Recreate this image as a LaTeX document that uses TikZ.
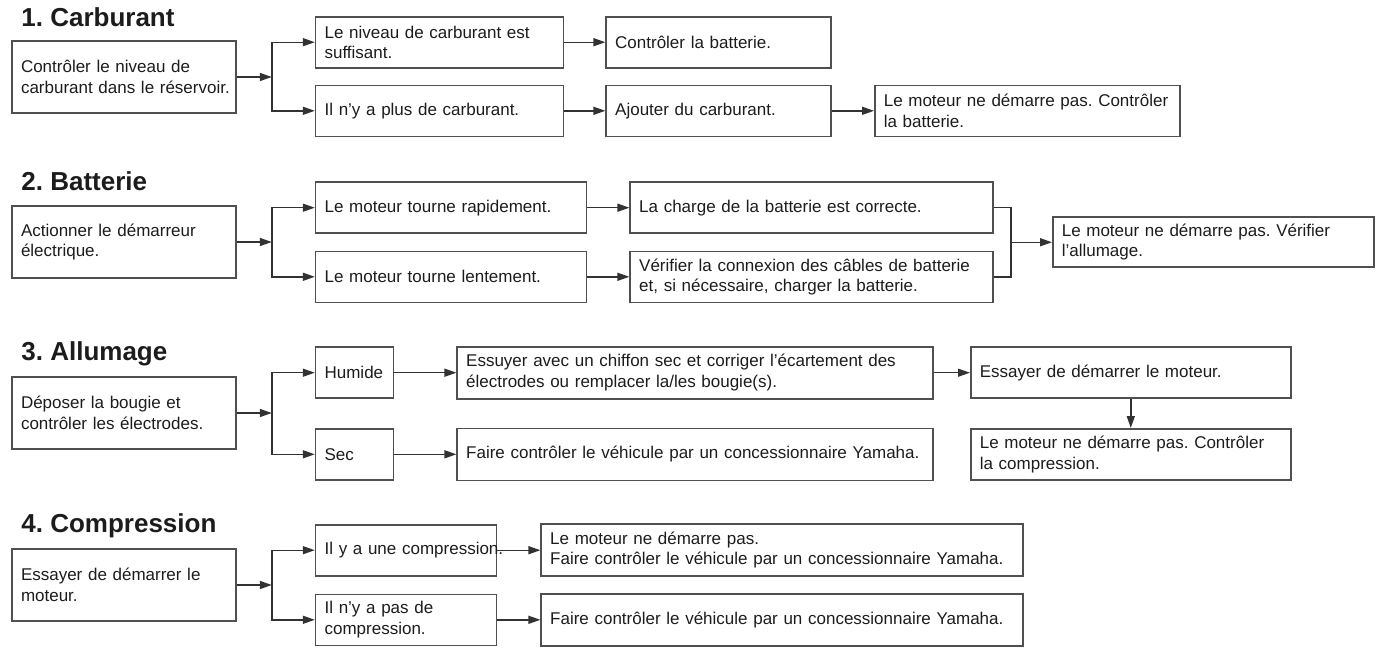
\documentclass[tikz,border=0pt]{standalone}
\usepackage{fontspec}
\setmainfont{Liberation Sans}
\usepackage{xcolor}
\usepackage{tikz}
\definecolor{linegray}{RGB}{50, 50, 50}
\definecolor{boxgray}{RGB}{80, 80, 80}
\definecolor{textblack}{RGB}{28, 28, 28}
\usetikzlibrary{arrows.meta, positioning, calc}
\newcommand{\boxfont}{\fontsize{17pt}{20.5pt}\selectfont}
\newcommand{\titlefont}{\fontsize{26pt}{30pt}\selectfont\bfseries}
\frenchspacing
\hyphenpenalty=10000
\exhyphenpenalty=10000

\begin{document}
\begin{tikzpicture}[
    x=1pt, y=-1pt,
    mainbox/.style={rectangle, draw=boxgray, line width=1.6pt, text=textblack,
                    inner xsep=9pt, inner ysep=0pt, text width=206pt,
                    minimum height=72pt, align=left, font=\boxfont},
    stepbox/.style={rectangle, draw=boxgray, line width=1.6pt, text=textblack,
                    inner xsep=9pt, inner ysep=0pt, minimum height=51pt,
                    align=left, font=\boxfont},
    heading/.style={anchor=base west, inner sep=0pt, text=textblack, font=\titlefont},
    flow/.style={draw=linegray, line width=1.4pt, -{Triangle[length=12pt, width=8pt]}},
    link/.style={draw=linegray, line width=1.4pt}
]
    \useasboundingbox (0,0) rectangle (1376,648);

    % 1. Carburant
    \node[mainbox] (check1) at (124,77) {Contrôler le niveau de\\\mbox{carburant dans le réservoir.}};
    \node[heading] (t1) at ([shift={(10pt,14pt)}]check1.north west) {1. Carburant};
    \coordinate[right=35pt of check1.east] (j1);
    \node[stepbox, text width=230pt, right=78pt of check1.north east, yshift=-2pt] (hi1) {Le niveau de carburant est\\suffisant.};
    \node[stepbox, text width=230pt, right=78pt of check1.south east, yshift=3pt] (lo1) {Il n’y a plus de carburant.};
    \node[stepbox, text width=207pt, right=41pt of hi1] (batt1) {Contrôler la batterie.};
    \node[stepbox, text width=207pt, right=41pt of lo1] (addfuel) {Ajouter du carburant.};
    \node[stepbox, text width=287pt, right=42pt of addfuel] (nostart1) {Le moteur ne démarre pas. Contrôler\\la batterie.};

    % 2. Batterie
    \node[mainbox] (check2) at (124,242) {Actionner le démarreur\\électrique.};
    \node[heading] (t2) at ([shift={(10pt,15pt)}]check2.north west) {2. Batterie};
    \coordinate[right=35pt of check2.east] (j2);
    \node[stepbox, text width=253pt, right=78pt of check2.north east, yshift=-2.5pt] (hi2) {Le moteur tourne rapidement.};
    \node[stepbox, text width=253pt, right=78pt of check2.south east, yshift=2pt] (lo2) {Le moteur tourne lentement.};
    \node[stepbox, text width=345pt, right=42pt of hi2] (chargeok) {La charge de la batterie est correcte.};
    \node[stepbox, text width=345pt, right=42pt of lo2] (cables) {Vérifier la connexion des câbles de batterie\\et, si nécessaire, charger la batterie.};
    \coordinate (k2) at ($(chargeok.east)!.5!(cables.east)+(17pt,0pt)$);
    \node[stepbox, text width=303pt, minimum height=50pt, right=41pt of k2] (ignition) {Le moteur ne démarre pas. Vérifier\\l’allumage.};

    % 3. Allumage
    \node[mainbox] (check3) at (124,413) {Déposer la bougie et\\contrôler les électrodes.};
    \node[heading] (t3) at ([shift={(10pt,16pt)}]check3.north west) {3. Allumage};
    \coordinate[right=35pt of check3.east] (j3);
    \node[stepbox, text width=60pt, right=78pt of check3.north east, yshift=3.5pt] (hi3) {Humide};
    \node[stepbox, text width=60pt, right=78pt of check3.south east, yshift=-4.5pt] (lo3) {Sec};
    \node[stepbox, text width=458pt, minimum height=52pt, right=62pt of hi3] (wipe) {Essuyer avec un chiffon sec et corriger l’écartement des\\électrodes ou remplacer la/les bougie(s).};
    \node[stepbox, text width=458pt, minimum height=52pt, right=62pt of lo3] (dealer3) {Faire contrôler le véhicule par un concessionnaire Yamaha.};
    \node[stepbox, text width=302pt, right=36pt of wipe] (retry) {Essayer de démarrer le moteur.};
    \node[stepbox, text width=302pt, below=29pt of retry] (nostart3) {Le moteur ne démarre pas. Contrôler\\la compression.};

    % 4. Compression
    \node[mainbox] (check4) at (124,585) {Essayer de démarrer le\\moteur.};
    \node[heading] (t4) at ([shift={(10pt,16pt)}]check4.north west) {4. Compression};
    \coordinate[right=35pt of check4.east] (j4);
    \node[stepbox, text width=163pt, right=78pt of check4.north east, yshift=-2pt] (hi4) {\mbox{Il y a une compression.}};
    \node[stepbox, text width=163pt, right=78pt of check4.south east, yshift=2pt] (lo4) {Il n’y a pas de\\compression.};
    \node[stepbox, text width=464pt, minimum height=52pt, right=43pt of hi4] (dealer4a) {Le moteur ne démarre pas.\\Faire contrôler le véhicule par un concessionnaire Yamaha.};
    \node[stepbox, text width=464pt, minimum height=52pt, right=43pt of lo4] (dealer4b) {Faire contrôler le véhicule par un concessionnaire Yamaha.};

    % connectors
    \foreach \s in {1,...,4} {
        \draw[flow] (check\s) -- (j\s);
        \draw[flow] (j\s) |- (hi\s);
        \draw[flow] (j\s) |- (lo\s);
    }
    \foreach \u/\v in {hi1/batt1, lo1/addfuel, addfuel/nostart1, hi2/chargeok, lo2/cables,
                       hi3/wipe, lo3/dealer3, wipe/retry, retry/nostart3,
                       hi4/dealer4a, lo4/dealer4b}
        \draw[flow] (\u) -- (\v);
    \draw[link] (chargeok) -| (k2);
    \draw[link] (cables) -| (k2);
    \draw[flow] (k2) -- (ignition);
\end{tikzpicture}
\end{document}
